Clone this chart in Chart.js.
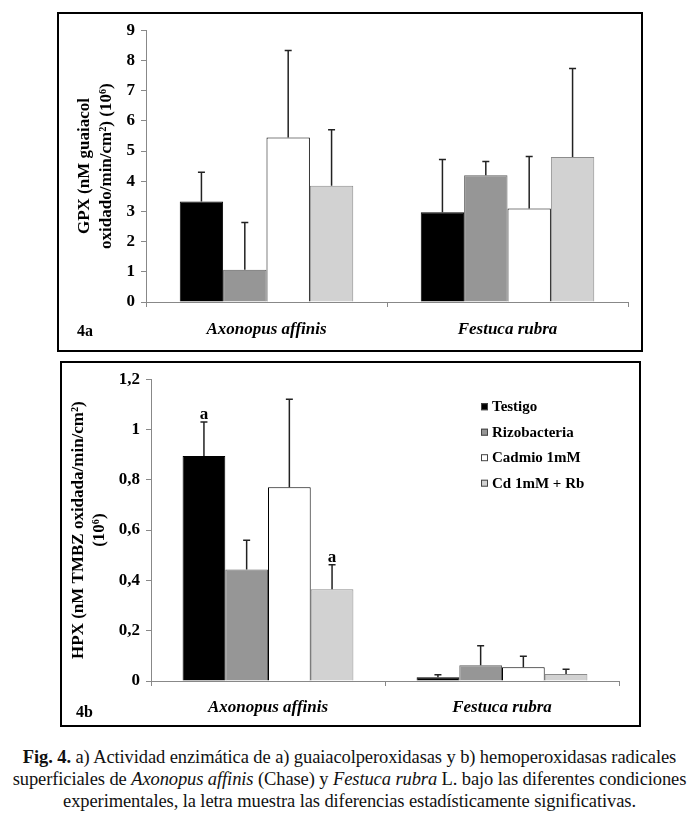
<!DOCTYPE html>
<html>
<head>
<meta charset="utf-8">
<script src="https://cdn.jsdelivr.net/npm/chart.js@4.4.0/dist/chart.umd.min.js"></script>
<style>
  body { margin: 0; background: #fff; width: 699px; height: 821px; position: relative; overflow: hidden;
         font-family: "Liberation Serif", serif; }
  .box { position: absolute; box-sizing: border-box; border: 2px solid #000; background: #fff; }
  #box1 { left: 57px; top: 12px; width: 586px; height: 340px; }
  #box2 { left: 60px; top: 361px; width: 581px; height: 366px; }
  .box canvas { display: block; }
  .tag { position: absolute; font-weight: bold; font-size: 16px; line-height: 18px; }
  #cap { position: absolute; left: 0; top: 746px; width: 699px; text-align: center;
         font-size: 18.5px; line-height: 22px; color: #111; letter-spacing: -0.1px; }
</style>
</head>
<body>
<div class="box" id="box1"><canvas id="gpx" width="582" height="336"></canvas></div>
<div class="box" id="box2"><canvas id="hpx" width="577" height="362"></canvas></div>
<div class="tag" style="left:77px; top:322px;">4a</div>
<div class="tag" style="left:76px; top:703px;">4b</div>
<div id="cap"><b>Fig. 4.</b> a) Actividad enzimática de a) guaiacolperoxidasas y b) hemoperoxidasas radicales<br>superficiales de <i>Axonopus affinis</i> (Chase) y <i>Festuca rubra</i> L. bajo las diferentes condiciones<br>experimentales, la letra muestra las diferencias estadísticamente significativas.</div>

<script>
const categories = ['Axonopus affinis', 'Festuca rubra'];
const seriesNames = ['Testigo', 'Rizobacteria', 'Cadmio 1mM', 'Cd 1mM + Rb'];

// 4a: GPX, medias y barra de error (solo hacia arriba)
const gpxTestigo = [3.33, 2.97];
const gpxRizo = [1.07, 4.2];
const gpxCadmio = [5.45, 3.1];
const gpxCdRb = [3.85, 4.8];
const gpxErrTestigo = [0.97, 1.75];
const gpxErrRizo = [1.56, 0.45];
const gpxErrCadmio = [2.88, 1.72];
const gpxErrCdRb = [1.85, 2.93];
const gpxTicks = ['0', '1', '2', '3', '4', '5', '6', '7', '8', '9'];

// 4b: HPX
const hpxTestigo = [0.895, 0.015];
const hpxRizo = [0.443, 0.063];
const hpxCadmio = [0.77, 0.055];
const hpxCdRb = [0.365, 0.028];
const hpxErrTestigo = [0.135, 0.01];
const hpxErrRizo = [0.117, 0.077];
const hpxErrCadmio = [0.35, 0.043];
const hpxErrCdRb = [0.097, 0.019];
const hpxSigTestigo = ['a', ''];
const hpxSigCdRb = ['a', ''];
const hpxTicks = ['0', '0,2', '0,4', '0,6', '0,8', '1', '1,2'];

const fills = ['#000000', '#969696', '#ffffff', '#d2d2d2'];
const edges = ['#000000', '#5e5e5e', '#000000', '#8c8c8c'];
const serif = '"Liberation Serif", serif';

const errorBars = {
  id: 'errorBars',
  afterDatasetsDraw(chart) {
    const ctx = chart.ctx;
    const y = chart.scales.y;
    chart.data.datasets.forEach((ds, di) => {
      chart.getDatasetMeta(di).data.forEach((bar, i) => {
        const top = y.getPixelForValue(ds.data[i] + ds.errUp[i]);
        ctx.save();
        ctx.strokeStyle = '#222';
        ctx.lineWidth = 1.5;
        ctx.beginPath();
        ctx.moveTo(bar.x, bar.y);
        ctx.lineTo(bar.x, top);
        ctx.moveTo(bar.x - 3.5, top);
        ctx.lineTo(bar.x + 3.5, top);
        ctx.stroke();
        if (ds.sig && ds.sig[i]) {
          ctx.fillStyle = '#000';
          ctx.font = 'bold 17px ' + serif;
          ctx.textAlign = 'center';
          ctx.textBaseline = 'bottom';
          ctx.fillText(ds.sig[i], bar.x, top + 1);
        }
        ctx.restore();
      });
    });
  }
};

const boxLegend = {
  id: 'boxLegend',
  afterDraw(chart, args, opts) {
    if (!opts.show) return;
    const ctx = chart.ctx;
    const x0 = chart.chartArea.right - 138;
    const y0 = chart.chartArea.top + 28;
    chart.data.datasets.forEach((ds, i) => {
      const yy = y0 + i * 25.5;
      ctx.save();
      ctx.fillStyle = ds.backgroundColor;
      ctx.strokeStyle = '#444';
      ctx.lineWidth = 1;
      ctx.fillRect(x0, yy - 4, 7, 7);
      ctx.strokeRect(x0 + 0.5, yy - 3.5, 6, 6);
      ctx.fillStyle = '#000';
      ctx.font = 'bold 15px ' + serif;
      ctx.textAlign = 'left';
      ctx.textBaseline = 'middle';
      ctx.fillText(ds.label, x0 + 11, yy);
      ctx.restore();
    });
  }
};

function makeChart(id, values, errs, sigs, cfg) {
  const datasets = values.map((v, i) => ({
    label: seriesNames[i],
    data: v,
    errUp: errs[i],
    sig: sigs[i],
    backgroundColor: fills[i],
    borderColor: edges[i],
    borderWidth: 1,
    categoryPercentage: cfg.catPct,
    barPercentage: 1.0
  }));
  return new Chart(document.getElementById(id), {
    type: 'bar',
    data: { labels: categories, datasets },
    plugins: [errorBars, boxLegend],
    options: {
      responsive: false,
      animation: false,
      layout: { padding: { top: 14, right: cfg.padRight, left: 0, bottom: 0 } },
      plugins: {
        legend: { display: false },
        tooltip: { enabled: false },
        boxLegend: { show: cfg.legend }
      },
      scales: {
        x: {
          offset: true,
          grid: { offset: true, drawOnChartArea: false, drawTicks: true, tickLength: 5, color: '#888' },
          border: { color: '#888', width: 1 },
          ticks: { color: '#000', padding: cfg.xPad, font: { family: serif, size: 17, weight: 'bold', style: 'italic' } },
          afterFit(s) { s.height = cfg.xHeight; }
        },
        y: {
          min: 0,
          max: cfg.max,
          grid: { drawOnChartArea: false, drawTicks: true, tickLength: 5, color: '#888' },
          border: { color: '#888', width: 1 },
          ticks: {
            stepSize: cfg.step,
            color: '#000',
            padding: 6,
            font: { family: serif, size: 17, weight: 'bold' },
            callback: (v, i) => cfg.ticks[i]
          },
          title: {
            display: true,
            text: cfg.title,
            color: '#000',
            padding: { top: cfg.titlePad, bottom: 0 },
            font: { family: serif, size: cfg.titleSize, weight: 'bold', lineHeight: cfg.titleLh }
          },
          afterFit(s) { s.width = cfg.yWidth; }
        }
      }
    }
  });
}

makeChart('gpx',
  [gpxTestigo, gpxRizo, gpxCadmio, gpxCdRb],
  [gpxErrTestigo, gpxErrRizo, gpxErrCadmio, gpxErrCdRb],
  [null, null, null, null],
  { catPct: 0.72, padRight: 13, xPad: 12, xHeight: 48, max: 9, step: 1, ticks: gpxTicks,
    title: ['GPX (nM guaiacol', 'oxidado/min/cm\u00b2) (10\u2076)'], titlePad: 15, titleSize: 17, titleLh: 22 / 17,
    yWidth: 87, legend: false });

makeChart('hpx',
  [hpxTestigo, hpxRizo, hpxCadmio, hpxCdRb],
  [hpxErrTestigo, hpxErrRizo, hpxErrCadmio, hpxErrCdRb],
  [hpxSigTestigo, null, null, hpxSigCdRb],
  { catPct: 0.73, padRight: 20, xPad: 11, xHeight: 44, max: 1.2, step: 0.2, ticks: hpxTicks,
    title: ['HPX (nM TMBZ oxidada/min/cm\u00b2)', '(10\u2076)'], titlePad: 6, titleSize: 17, titleLh: 21 / 17,
    yWidth: 89, legend: true });
</script>
</body>
</html>
